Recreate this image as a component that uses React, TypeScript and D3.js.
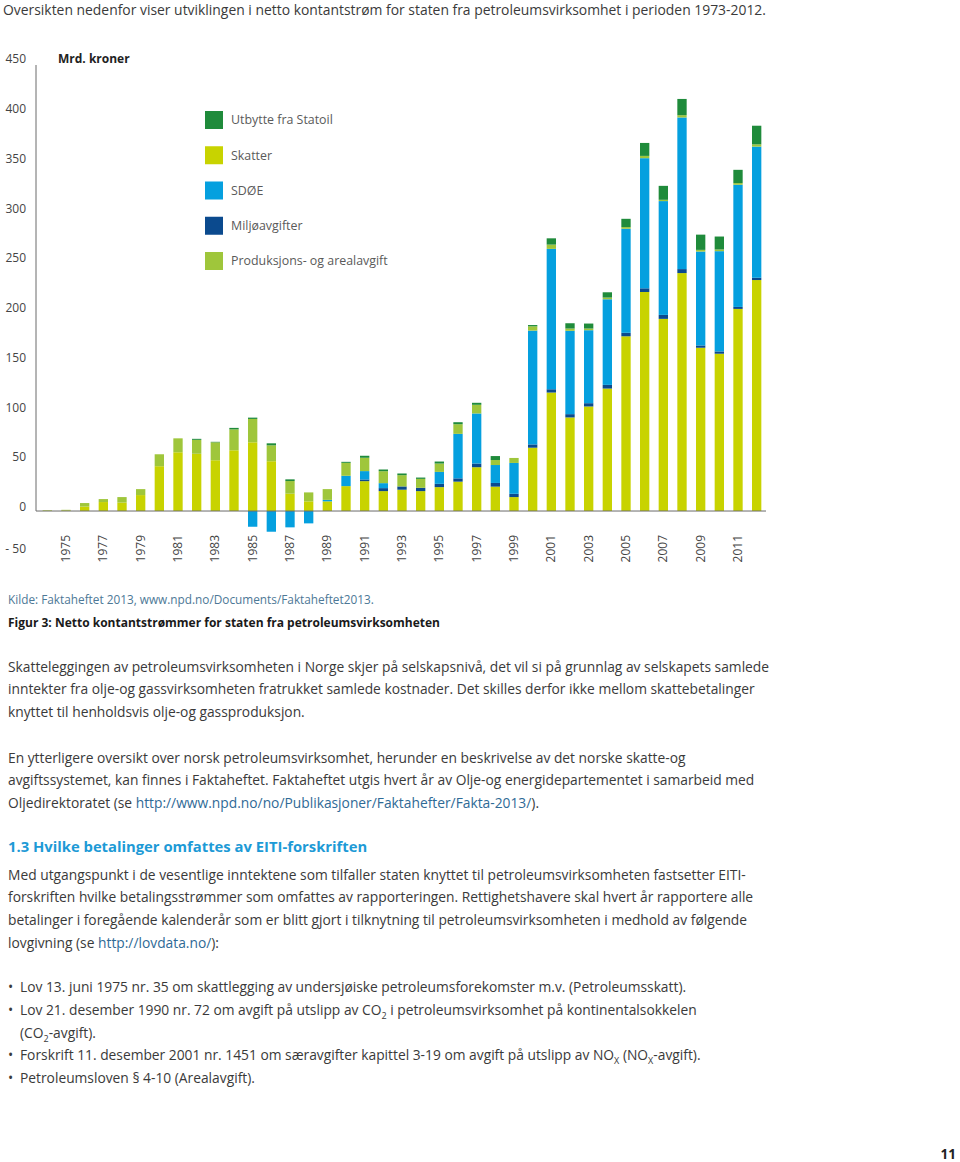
import React from "react";
import * as d3 from "d3";

const years = [1974,1975,1976,1977,1978,1979,1980,1981,1982,1983,1984,1985,1986,1987,1988,1989,1990,1991,1992,1993,1994,1995,1996,1997,1998,1999,2000,2001,2002,2003,2004,2005,2006,2007,2008,2009,2010,2011,2012];
const skatter = [0.4,0.6,4.5,9,8.5,16,45,59,57.5,51,61,69,50,17.4,9.7,9.7,25,30,20,21.4,20,24,29.5,44,24.5,14,63.6,119,94,105,123,175.5,220,193,239,164,158,203,232];
const miljo = [0,0,0,0,0,0,0,0,0,0,0,0,0,0,0,0,0,1.7,3,3.3,3.3,3.3,3.3,3.7,3.7,3.3,3.3,3.3,3.3,3.3,3.7,3.5,3.7,4,4,2.3,2.3,2,2.3];
const sdoe = [0,0,0,0,0,0,0,0,0,0,0,-15.8,-20.8,-16.4,-12.4,1.5,10.4,8.4,5,0,0,12,44.7,50.3,18,31,114.3,141,83.7,73.3,86,104.5,130.7,114.3,152.3,94.3,100.7,122.7,131.7];
const prod = [0.4,0.6,3.5,3,5.5,6,12,14,14,18,21,23.5,16,12.7,9,10.8,13,13.4,12,11.3,9,8.4,9.7,8.7,5,5,4.3,4.3,2.3,1.7,1.7,1.7,2.3,1.3,2.3,1.7,1.7,1.7,2.3];
const utbytte = [0,0,0,0,0,0,0,0,1,0.5,1.5,1.3,2,1.7,0,0,1,2,1.7,1.7,1.3,2,2,2,4,0,1.3,6.3,5.3,5,5.3,8.3,13,14,16.3,15.3,13,13.3,18.7];

const seriesKeys = ["skatter", "miljo", "sdoe", "prod", "utbytte"];
const seriesNames: Record<string, string> = {
  utbytte: "Utbytte fra Statoil",
  skatter: "Skatter",
  sdoe: "SDØE",
  miljo: "Miljøavgifter",
  prod: "Produksjons- og arealavgift",
};
const legendOrder = ["utbytte", "skatter", "sdoe", "miljo", "prod"];
const colors: Record<string, string> = {
  utbytte: "#1f8b3b",
  skatter: "#c8d300",
  sdoe: "#05a0df",
  miljo: "#0b4a8e",
  prod: "#9fc63b",
};
const yTicks = [-50, 0, 50, 100, 150, 200, 250, 300, 350, 400, 450];
const xLabelYears = [1975,1977,1979,1981,1983,1985,1987,1989,1991,1993,1995,1997,1999,2001,2003,2005,2007,2009,2011];

const FONT = "'Open Sans', 'Noto Sans', sans-serif";
const BODY = "#3a3a3a";
const LINK = "#2f6a96";
const FS = 13.8;

export default function App() {
  const rows = years.map((yr, i) => ({
    year: yr,
    skatter: skatter[i],
    miljo: miljo[i],
    sdoe: sdoe[i],
    prod: prod[i],
    utbytte: utbytte[i],
  }));
  const stacked = d3.stack<any>().keys(seriesKeys).offset(d3.stackOffsetDiverging)(rows);

  const x = d3.scaleBand<number>().domain(years).range([38, 766]).paddingInner(0.5).paddingOuter(0.25);
  const y = d3.scaleLinear().domain([-50, 450]).range([560.8, 63]);
  const legendY = d3.scalePoint<string>().domain(legendOrder).range([111, 252]);

  const bodyLines1 = [
    "Skatteleggingen av petroleumsvirksomheten i Norge skjer på selskapsnivå, det vil si på grunnlag av selskapets samlede",
    "inntekter fra olje-og gassvirksomheten fratrukket samlede kostnader. Det skilles derfor ikke mellom skattebetalinger",
    "knyttet til henholdsvis olje-og gassproduksjon.",
  ];
  const bodyLines3 = [
    "Med utgangspunkt i de vesentlige inntektene som tilfaller staten knyttet til petroleumsvirksomheten fastsetter EITI-",
    "forskriften hvilke betalingsstrømmer som omfattes av rapporteringen. Rettighetshavere skal hvert år rapportere alle",
    "betalinger i foregående kalenderår som er blitt gjort i tilknytning til petroleumsvirksomheten i medhold av følgende",
  ];

  return (
    <svg width={960} height={1162} style={{ position: "absolute", left: 0, top: 0, background: "#fff" }} fontFamily={FONT}>
      <text x={3} y={15} fontSize={13.9} fill={BODY}>
        Oversikten nedenfor viser utviklingen i netto kontantstrøm for staten fra petroleumsvirksomhet i perioden 1973-2012.
      </text>

      {/* bars */}
      {stacked.map((s) => (
        <g key={s.key} fill={colors[s.key]}>
          {s.map((d, i) => {
            const h = Math.abs(y(d[0]) - y(d[1]));
            if (h < 0.01) return null;
            return (
              <rect key={i} x={x(years[i])} width={x.bandwidth()} y={Math.min(y(d[0]), y(d[1]))} height={h} />
            );
          })}
        </g>
      ))}

      {/* axes */}
      <line x1={36} x2={36} y1={65} y2={y(0)} stroke="#6b6b6b" strokeWidth={1} />
      <line x1={36} x2={766} y1={y(0)} y2={y(0)} stroke="#6b6b6b" strokeWidth={1} />
      {yTicks.map((t) => (
        <text key={t} x={26} y={y(t) - (t < 0 ? 12 : 4)} dy="0.35em" textAnchor="end" fontSize={12} fill="#444">
          {t < 0 ? "- " + Math.abs(t) : t}
        </text>
      ))}
      {xLabelYears.map((yr) => (
        <text
          key={yr}
          transform={`translate(${(x(yr) as number) + x.bandwidth() / 2 + 4},535) rotate(-90)`}
          textAnchor="end"
          fontSize={12}
          fill="#444"
        >
          {yr}
        </text>
      ))}
      <text x={58} y={59} dy="0.35em" fontSize={12} fontWeight="bold" fill="#222">Mrd. kroner</text>

      {/* legend */}
      {legendOrder.map((k) => (
        <g key={k}>
          <rect x={205} y={legendY(k)} width={18} height={18} fill={colors[k]} />
          <text x={231} y={(legendY(k) as number) + 9} dy="0.35em" fontSize={12.4} fill="#5a5a5a">{seriesNames[k]}</text>
        </g>
      ))}

      {/* page text */}
      <text x={8} y={600} dy="0.35em" fontSize={11.8} fill="#4d7896">
        Kilde: Faktaheftet 2013, www.npd.no/Documents/Faktaheftet2013.
      </text>
      <text x={8} y={623} dy="0.35em" fontSize={12} fontWeight="bold" fill="#1a1a1a">
        Figur 3: Netto kontantstrømmer for staten fra petroleumsvirksomheten
      </text>
      {bodyLines1.map((l, i) => (
        <text key={i} x={8} y={667 + i * 22.5} dy="0.35em" fontSize={FS} fill={BODY}>{l}</text>
      ))}
      <text x={8} y={758} dy="0.35em" fontSize={FS} fill={BODY}>
        En ytterligere oversikt over norsk petroleumsvirksomhet, herunder en beskrivelse av det norske skatte-og
      </text>
      <text x={8} y={780.5} dy="0.35em" fontSize={FS} fill={BODY}>
        avgiftssystemet, kan finnes i Faktaheftet. Faktaheftet utgis hvert år av Olje-og energidepartementet i samarbeid med
      </text>
      <text x={8} y={803} dy="0.35em" fontSize={FS} fill={BODY}>
        Oljedirektoratet (se <tspan fill={LINK}>http://www.npd.no/no/Publikasjoner/Faktahefter/Fakta-2013/</tspan>).
      </text>
      <text x={8} y={847} dy="0.35em" fontSize={14.8} fontWeight="bold" fill="#1d9ad6">
        1.3 Hvilke betalinger omfattes av EITI-forskriften
      </text>
      {bodyLines3.map((l, i) => (
        <text key={i} x={8} y={875 + i * 22.6} dy="0.35em" fontSize={FS} fill={BODY}>{l}</text>
      ))}
      <text x={8} y={943} dy="0.35em" fontSize={FS} fill={BODY}>
        lovgivning (se <tspan fill={LINK}>http://lovdata.no/</tspan>):
      </text>

      {/* bullets */}
      <text x={8} y={987} dy="0.35em" fontSize={FS} fill={BODY}>•</text>
      <text x={20} y={987} dy="0.35em" fontSize={FS} fill={BODY}>
        Lov 13. juni 1975 nr. 35 om skattlegging av undersjøiske petroleumsforekomster m.v. (Petroleumsskatt).
      </text>
      <text x={8} y={1010} dy="0.35em" fontSize={FS} fill={BODY}>•</text>
      <text x={20} y={1010} dy="0.35em" fontSize={FS} fill={BODY}>
        Lov 21. desember 1990 nr. 72 om avgift på utslipp av CO<tspan fontSize={9} dy="4">2</tspan>
        <tspan dy="-4"> i petroleumsvirksomhet på kontinentalsokkelen</tspan>
      </text>
      <text x={20} y={1033} dy="0.35em" fontSize={FS} fill={BODY}>
        (CO<tspan fontSize={9} dy="4">2</tspan><tspan dy="-4">-avgift).</tspan>
      </text>
      <text x={8} y={1055} dy="0.35em" fontSize={FS} fill={BODY}>•</text>
      <text x={20} y={1055} dy="0.35em" fontSize={FS} fill={BODY}>
        Forskrift 11. desember 2001 nr. 1451 om særavgifter kapittel 3-19 om avgift på utslipp av NO<tspan fontSize={9} dy="4">X</tspan>
        <tspan dy="-4"> (NO</tspan><tspan fontSize={9} dy="4">X</tspan><tspan dy="-4">-avgift).</tspan>
      </text>
      <text x={8} y={1078} dy="0.35em" fontSize={FS} fill={BODY}>•</text>
      <text x={20} y={1078} dy="0.35em" fontSize={FS} fill={BODY}>
        Petroleumsloven § 4-10 (Arealavgift).
      </text>
      <text x={956} y={1154} dy="0.35em" textAnchor="end" fontSize={13.5} fontWeight="bold" fill="#222">11</text>
    </svg>
  );
}
